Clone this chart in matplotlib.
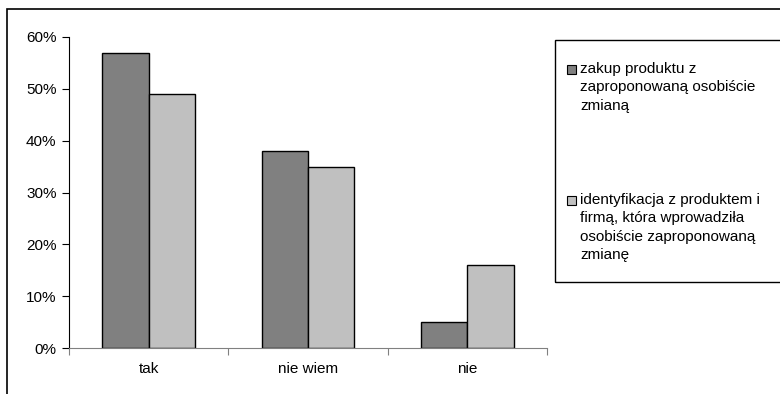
import numpy as np
import matplotlib.pyplot as plt
from matplotlib.patches import Rectangle

plt.rcParams['font.family'] = ['Liberation Sans', 'DejaVu Sans']
plt.rcParams['font.size'] = 11

categories = ["tak", "nie wiem", "nie"]
series1 = [0.57, 0.38, 0.05]
series2 = [0.49, 0.35, 0.16]
labels = ["zakup produktu z\nzaproponowaną osobiście\nzmianą",
          "identyfikacja z produktem i\nfirmą, która wprowadziła\nosobiście zaproponowaną\nzmianę"]
colors = ["#808080", "#c0c0c0"]

W, H = 780, 394
fig = plt.figure(figsize=(7.8, 3.94), dpi=100)

# outer chart frame
fig.patches.append(Rectangle((7 / W, -0.1), 1.1, (H - 9) / H + 0.1, transform=fig.transFigure,
                             fill=False, edgecolor="black", lw=1.2))

ax = fig.add_axes([69 / W, (H - 348) / H, 478 / W, (348 - 37) / H])

ind = np.arange(len(categories))
width = 0.29
ax.bar(ind - width / 2, series1, width, color=colors[0], edgecolor="black", lw=1)
ax.bar(ind + width / 2, series2, width, color=colors[1], edgecolor="black", lw=1)

ax.set_xlim(-0.5, 2.5)
ax.set_ylim(0, 0.6)
ax.set_yticks(np.arange(0, 0.61, 0.1))
ax.set_yticklabels([f"{int(round(v * 100))}%" for v in np.arange(0, 0.61, 0.1)])
ax.set_xticks([-0.5, 0.5, 1.5, 2.5])
ax.set_xticklabels([])
ax.set_xticks(ind, minor=True)
ax.set_xticklabels(categories, minor=True)
ax.tick_params(axis="x", which="minor", length=0, pad=10)
ax.tick_params(axis="x", which="major", length=5, color="#808080")
ax.tick_params(axis="y", length=5, pad=4)
ax.spines["top"].set_visible(False)
ax.spines["right"].set_visible(False)
ax.spines["bottom"].set_color("#808080")

# legend
fig.patches.append(Rectangle((555 / W, (H - 282) / H), 240 / W, (282 - 40) / H,
                             transform=fig.transFigure, fill=False, edgecolor="black", lw=1))
for lab, col, ytop in zip(labels, colors, [62, 193]):
    fig.patches.append(Rectangle((567 / W, (H - ytop - 12) / H), 9 / W, 9 / H,
                                 transform=fig.transFigure, facecolor=col, edgecolor="black", lw=0.8))
    fig.text(580 / W, (H - ytop) / H, lab, va="top", ha="left", linespacing=1.4)

plt.savefig("out.png", dpi=100)
